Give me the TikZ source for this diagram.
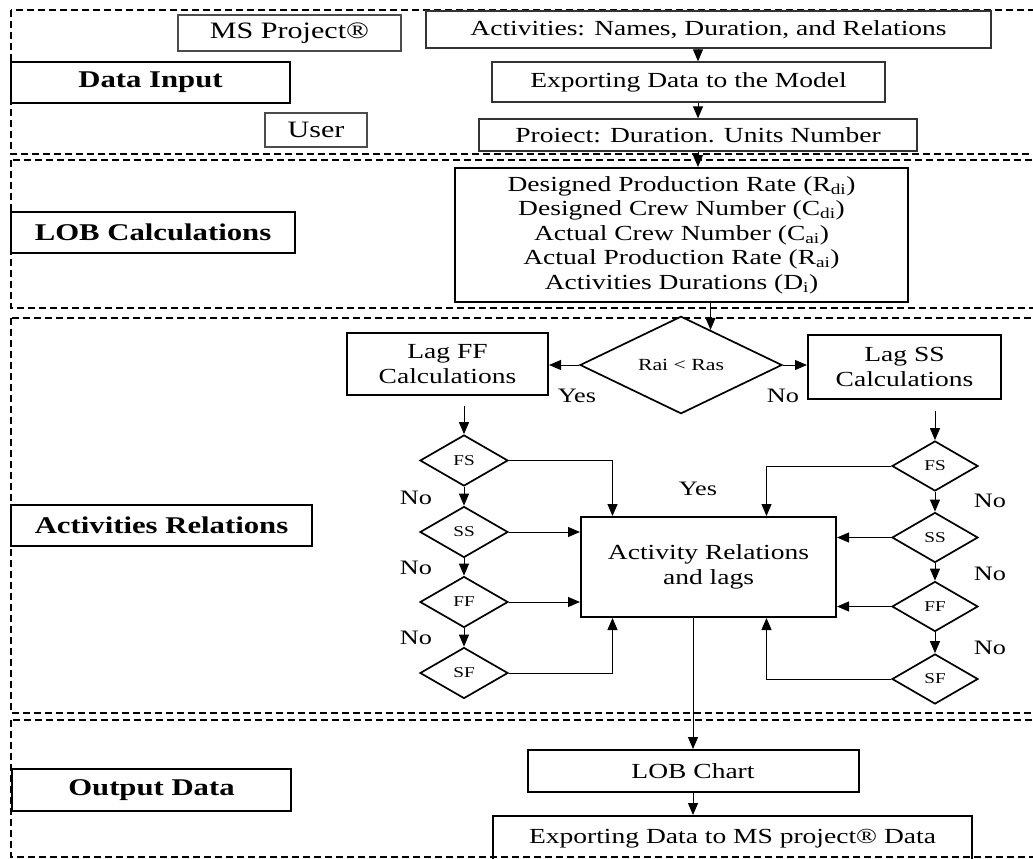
\documentclass[tikz,border=0pt]{standalone}
\usepackage{fontspec}
\setmainfont{Liberation Serif}[FakeStretch=1.28]
\usetikzlibrary{shapes.geometric,arrows.meta}

\begin{document}
\begin{tikzpicture}[
      x=1pt, y=-1pt,
      type-panel/.style={draw, line width=1.1pt, dash pattern=on 7pt off 4pt},
      type-label/.style={rectangle, draw, line width=2pt, inner sep=0pt, font=\fontsize{24}{28}\selectfont\bfseries},
      type-source/.style={rectangle, draw=black!70, line width=1.3pt, inner sep=0pt, font=\fontsize{23.5}{27}\selectfont},
      type-step/.style={rectangle, draw=black!80, line width=1.3pt, inner sep=0pt, font=\fontsize{21.5}{25}\selectfont},
      type-calc/.style={rectangle, draw, line width=2pt, inner sep=0pt, align=center, font=\fontsize{21.5}{24.5}\selectfont},
      type-check/.style={diamond, draw, line width=1.7pt, inner sep=0pt, font=\fontsize{15}{18}\selectfont},
      type-answer/.style={font=\fontsize{20.5}{24}\selectfont},
      type-arrow/.style={-{Triangle[length=12pt,width=10pt]}, line width=1pt}
    ]
      \clip (0,0) rectangle (1033,859);
      % panels
      \draw[type-panel] (11,10) rectangle (1050,154);
      \draw[type-panel] (11,160) rectangle (1050,308);
      \draw[type-panel] (11,318) rectangle (1050,713);
      \draw[type-panel] (11,720) rectangle (1050,857);

      % data input
      \node[type-label, minimum width=279pt, minimum height=41pt] (datain) at (150.5,82.5) {Data Input};
      \node[type-source, minimum width=223pt, minimum height=36pt] (msp) at (289.5,33) {MS Project®};
      \node[type-source, minimum width=102pt, minimum height=34pt] (user) at (316,130) {User};
      \node[type-step, minimum width=565pt, minimum height=37pt] (acts) at (708.5,29.5) {Activities: Names, Duration, and Relations};
      \node[type-step, minimum width=393pt, minimum height=40pt] (expm) at (688.5,82) {Exporting Data to the Model};
      \node[type-step, minimum width=438pt, minimum height=32pt] (proj) at (698,135) {Proiect: Duration. Units Number};

      % lob calculations
      \node[type-label, minimum width=284pt, minimum height=41pt] (lobcalc) at (153,232.5) {LOB Calculations};
      \node[type-calc, minimum width=453pt, minimum height=134pt] (lob) at (681.5,235)
        {Designed Production Rate (R\textsubscript{di})\\
         Designed Crew Number (C\textsubscript{di})\\
         Actual Crew Number (C\textsubscript{ai})\\
         Actual Production Rate (R\textsubscript{ai})\\
         Activities Durations (D\textsubscript{i})};

      % activities relations
      \node[type-label, minimum width=301pt, minimum height=41pt] (actrel) at (161.5,525.5) {Activities Relations};
      \node[type-check, minimum width=202pt, minimum height=94pt, font=\fontsize{17}{20}\selectfont] (rate) at (681,365) {Rai < Ras};
      \node[type-calc, minimum width=201pt, minimum height=62pt] (lagff) at (447.5,364) {Lag FF\\Calculations};
      \node[type-calc, minimum width=193pt, minimum height=64pt] (lagss) at (904.5,367) {Lag SS\\Calculations};
      \node[type-calc, minimum width=255pt, minimum height=100pt] (rel) at (708.5,567) {Activity Relations\\and lags};

      \foreach \kind/\y in {FS/460.5, SS/532, FF/602, SF/673}
        \node[type-check, minimum width=88pt, minimum height=51pt] (ff-\kind) at (464,\y) {\kind};
      \foreach \kind/\y in {FS/466, SS/537.5, FF/606.5, SF/679}
        \node[type-check, minimum width=86pt, minimum height=50pt] (ss-\kind) at (935,\y) {\kind};

      \node[type-answer] (yes-ff) at (577,396) {Yes};
      \node[type-answer] (no-ss) at (783,396) {No};
      \node[type-answer] (yes-rel) at (698,489) {Yes};
      \foreach \y [count=\i] in {498,568,638}
        \node[type-answer] (no-ff-\i) at (416,\y) {No};
      \foreach \y [count=\i] in {501,574,648}
        \node[type-answer] (no-ss-\i) at (990,\y) {No};

      % output data
      \node[type-label, minimum width=279pt, minimum height=42pt] (output) at (151.5,790) {Output Data};
      \node[type-calc, minimum width=331pt, minimum height=42pt] (chart) at (693,771) {LOB Chart};
      \node[type-calc, minimum width=479pt, minimum height=46pt] (export) at (732.5,839) {Exporting Data to MS project® Data};

      % connectors
      \draw[type-arrow] (acts.south -| proj) -- (expm.north -| proj);
      \draw[type-arrow] (expm.south -| proj) -- (proj.north);
      \draw[type-arrow] (proj.south) -- (proj.south |- lob.north);
      \draw[type-arrow] (lob.south -| rate.50) -- (rate.50);
      \draw[type-arrow] (rate.west) -- (rate.west -| lagff.east);
      \draw[type-arrow] (rate.east) -- (rate.east -| lagss.west);
      \draw[type-arrow, shorten <=10pt] (lagff.south -| ff-FS) -- (ff-FS.north);
      \draw[type-arrow, shorten <=11pt] (lagss.south -| ss-FS) -- (ss-FS.north);
      \foreach \a/\b in {FS/SS, SS/FF, FF/SF} {
        \draw[type-arrow] (ff-\a) -- (ff-\b);
        \draw[type-arrow] (ss-\a) -- (ss-\b);
      }
      \draw[type-arrow] (ff-FS.east) -| ([xshift=-96pt]rel.north);
      \draw[type-arrow] (ff-SS.east) -- (ff-SS.east -| rel.west);
      \draw[type-arrow] (ff-FF.east) -- (ff-FF.east -| rel.west);
      \draw[type-arrow] (ff-SF.east) -| ([xshift=-96pt]rel.south);
      \draw[type-arrow] (ss-FS.west) -| ([xshift=58pt]rel.north);
      \draw[type-arrow] (ss-SS.west) -- (ss-SS.west -| rel.east);
      \draw[type-arrow] (ss-FF.west) -- (ss-FF.west -| rel.east);
      \draw[type-arrow] (ss-SF.west) -| ([xshift=58pt]rel.south);
      \draw[type-arrow] (rel.south -| chart) -- (chart.north);
      \draw[type-arrow] (chart.south) -- (chart.south |- export.north);
    \end{tikzpicture}
\end{document}
